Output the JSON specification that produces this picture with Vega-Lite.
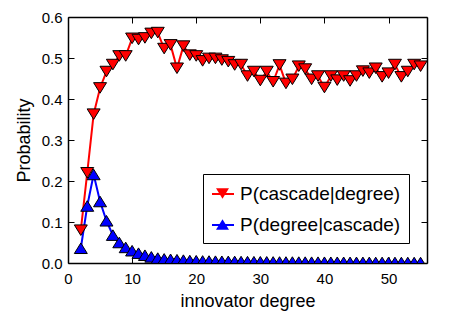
{
  "$schema": "https://vega.github.io/schema/vega-lite/v6.json",
  "width": 359,
  "height": 246,
  "autosize": "none",
  "padding": {"left": 68, "top": 17, "right": 26, "bottom": 55},
  "background": "white",
  "data": {"values": [
    {"series": "P(cascade|degree)", "degree": 2, "p": 0.080},
    {"series": "P(cascade|degree)", "degree": 3, "p": 0.220},
    {"series": "P(cascade|degree)", "degree": 4, "p": 0.363},
    {"series": "P(cascade|degree)", "degree": 5, "p": 0.427},
    {"series": "P(cascade|degree)", "degree": 6, "p": 0.467},
    {"series": "P(cascade|degree)", "degree": 7, "p": 0.484},
    {"series": "P(cascade|degree)", "degree": 8, "p": 0.505},
    {"series": "P(cascade|degree)", "degree": 9, "p": 0.505},
    {"series": "P(cascade|degree)", "degree": 10, "p": 0.548},
    {"series": "P(cascade|degree)", "degree": 11, "p": 0.545},
    {"series": "P(cascade|degree)", "degree": 12, "p": 0.549},
    {"series": "P(cascade|degree)", "degree": 13, "p": 0.560},
    {"series": "P(cascade|degree)", "degree": 14, "p": 0.562},
    {"series": "P(cascade|degree)", "degree": 15, "p": 0.523},
    {"series": "P(cascade|degree)", "degree": 16, "p": 0.532},
    {"series": "P(cascade|degree)", "degree": 17, "p": 0.475},
    {"series": "P(cascade|degree)", "degree": 18, "p": 0.529},
    {"series": "P(cascade|degree)", "degree": 19, "p": 0.507},
    {"series": "P(cascade|degree)", "degree": 20, "p": 0.505},
    {"series": "P(cascade|degree)", "degree": 21, "p": 0.493},
    {"series": "P(cascade|degree)", "degree": 22, "p": 0.499},
    {"series": "P(cascade|degree)", "degree": 23, "p": 0.499},
    {"series": "P(cascade|degree)", "degree": 24, "p": 0.495},
    {"series": "P(cascade|degree)", "degree": 25, "p": 0.491},
    {"series": "P(cascade|degree)", "degree": 26, "p": 0.483},
    {"series": "P(cascade|degree)", "degree": 27, "p": 0.484},
    {"series": "P(cascade|degree)", "degree": 28, "p": 0.456},
    {"series": "P(cascade|degree)", "degree": 29, "p": 0.467},
    {"series": "P(cascade|degree)", "degree": 30, "p": 0.445},
    {"series": "P(cascade|degree)", "degree": 31, "p": 0.467},
    {"series": "P(cascade|degree)", "degree": 32, "p": 0.442},
    {"series": "P(cascade|degree)", "degree": 33, "p": 0.483},
    {"series": "P(cascade|degree)", "degree": 34, "p": 0.438},
    {"series": "P(cascade|degree)", "degree": 35, "p": 0.448},
    {"series": "P(cascade|degree)", "degree": 36, "p": 0.480},
    {"series": "P(cascade|degree)", "degree": 37, "p": 0.473},
    {"series": "P(cascade|degree)", "degree": 38, "p": 0.448},
    {"series": "P(cascade|degree)", "degree": 39, "p": 0.456},
    {"series": "P(cascade|degree)", "degree": 40, "p": 0.428},
    {"series": "P(cascade|degree)", "degree": 41, "p": 0.456},
    {"series": "P(cascade|degree)", "degree": 42, "p": 0.446},
    {"series": "P(cascade|degree)", "degree": 43, "p": 0.456},
    {"series": "P(cascade|degree)", "degree": 44, "p": 0.444},
    {"series": "P(cascade|degree)", "degree": 45, "p": 0.456},
    {"series": "P(cascade|degree)", "degree": 46, "p": 0.468},
    {"series": "P(cascade|degree)", "degree": 47, "p": 0.463},
    {"series": "P(cascade|degree)", "degree": 48, "p": 0.475},
    {"series": "P(cascade|degree)", "degree": 49, "p": 0.454},
    {"series": "P(cascade|degree)", "degree": 50, "p": 0.463},
    {"series": "P(cascade|degree)", "degree": 51, "p": 0.484},
    {"series": "P(cascade|degree)", "degree": 52, "p": 0.454},
    {"series": "P(cascade|degree)", "degree": 53, "p": 0.467},
    {"series": "P(cascade|degree)", "degree": 54, "p": 0.484},
    {"series": "P(cascade|degree)", "degree": 55, "p": 0.480},
    {"series": "P(degree|cascade)", "degree": 2, "p": 0.036},
    {"series": "P(degree|cascade)", "degree": 3, "p": 0.139},
    {"series": "P(degree|cascade)", "degree": 4, "p": 0.216},
    {"series": "P(degree|cascade)", "degree": 5, "p": 0.150},
    {"series": "P(degree|cascade)", "degree": 6, "p": 0.103},
    {"series": "P(degree|cascade)", "degree": 7, "p": 0.068},
    {"series": "P(degree|cascade)", "degree": 8, "p": 0.050},
    {"series": "P(degree|cascade)", "degree": 9, "p": 0.038},
    {"series": "P(degree|cascade)", "degree": 10, "p": 0.030},
    {"series": "P(degree|cascade)", "degree": 11, "p": 0.024},
    {"series": "P(degree|cascade)", "degree": 12, "p": 0.019},
    {"series": "P(degree|cascade)", "degree": 13, "p": 0.015},
    {"series": "P(degree|cascade)", "degree": 14, "p": 0.012},
    {"series": "P(degree|cascade)", "degree": 15, "p": 0.010},
    {"series": "P(degree|cascade)", "degree": 16, "p": 0.009},
    {"series": "P(degree|cascade)", "degree": 17, "p": 0.008},
    {"series": "P(degree|cascade)", "degree": 18, "p": 0.007},
    {"series": "P(degree|cascade)", "degree": 19, "p": 0.006},
    {"series": "P(degree|cascade)", "degree": 20, "p": 0.0055},
    {"series": "P(degree|cascade)", "degree": 21, "p": 0.005},
    {"series": "P(degree|cascade)", "degree": 22, "p": 0.0048},
    {"series": "P(degree|cascade)", "degree": 23, "p": 0.0045},
    {"series": "P(degree|cascade)", "degree": 24, "p": 0.0042},
    {"series": "P(degree|cascade)", "degree": 25, "p": 0.004},
    {"series": "P(degree|cascade)", "degree": 26, "p": 0.0038},
    {"series": "P(degree|cascade)", "degree": 27, "p": 0.0035},
    {"series": "P(degree|cascade)", "degree": 28, "p": 0.0033},
    {"series": "P(degree|cascade)", "degree": 29, "p": 0.0031},
    {"series": "P(degree|cascade)", "degree": 30, "p": 0.003},
    {"series": "P(degree|cascade)", "degree": 31, "p": 0.0028},
    {"series": "P(degree|cascade)", "degree": 32, "p": 0.0026},
    {"series": "P(degree|cascade)", "degree": 33, "p": 0.0025},
    {"series": "P(degree|cascade)", "degree": 34, "p": 0.0024},
    {"series": "P(degree|cascade)", "degree": 35, "p": 0.0023},
    {"series": "P(degree|cascade)", "degree": 36, "p": 0.0022},
    {"series": "P(degree|cascade)", "degree": 37, "p": 0.0021},
    {"series": "P(degree|cascade)", "degree": 38, "p": 0.002},
    {"series": "P(degree|cascade)", "degree": 39, "p": 0.002},
    {"series": "P(degree|cascade)", "degree": 40, "p": 0.0019},
    {"series": "P(degree|cascade)", "degree": 41, "p": 0.0018},
    {"series": "P(degree|cascade)", "degree": 42, "p": 0.0018},
    {"series": "P(degree|cascade)", "degree": 43, "p": 0.0017},
    {"series": "P(degree|cascade)", "degree": 44, "p": 0.0016},
    {"series": "P(degree|cascade)", "degree": 45, "p": 0.0016},
    {"series": "P(degree|cascade)", "degree": 46, "p": 0.0015},
    {"series": "P(degree|cascade)", "degree": 47, "p": 0.0015},
    {"series": "P(degree|cascade)", "degree": 48, "p": 0.0014},
    {"series": "P(degree|cascade)", "degree": 49, "p": 0.0014},
    {"series": "P(degree|cascade)", "degree": 50, "p": 0.0013},
    {"series": "P(degree|cascade)", "degree": 51, "p": 0.0013},
    {"series": "P(degree|cascade)", "degree": 52, "p": 0.0012},
    {"series": "P(degree|cascade)", "degree": 53, "p": 0.0012},
    {"series": "P(degree|cascade)", "degree": 54, "p": 0.0011},
    {"series": "P(degree|cascade)", "degree": 55, "p": 0.0011}
  ]},
  "config": {
    "view": {"stroke": null},
    "font": "Liberation Sans",
    "axis": {
      "domainColor": "black",
      "domainWidth": 1.5,
      "tickColor": "black",
      "tickSize": -6,
      "tickWidth": 1,
      "grid": false,
      "labelFont": "Liberation Sans",
      "labelFontSize": 15,
      "labelColor": "black",
      "labelFlush": false,
      "titleFont": "Liberation Sans",
      "titleFontSize": 18,
      "titleFontWeight": "normal",
      "titleColor": "black"
    },
    "legend": {
      "labelFont": "Liberation Sans",
      "labelFontSize": 19,
      "labelColor": "black",
      "labelLimit": 300
    }
  },
  "layer": [
    {
      "mark": {"type": "line", "strokeWidth": 2, "clip": true},
      "encoding": {
        "x": {
          "field": "degree", "type": "quantitative",
          "scale": {"domain": [0, 56], "nice": false},
          "axis": {"orient": "bottom", "values": [0, 10, 20, 30, 40, 50], "format": "d", "labelPadding": 14, "title": "innovator degree", "titlePadding": 6}
        },
        "y": {
          "field": "p", "type": "quantitative",
          "scale": {"domain": [0, 0.6], "nice": false},
          "axis": {"orient": "left", "values": [0, 0.1, 0.2, 0.3, 0.4, 0.5, 0.6], "format": ".1f", "labelPadding": 12, "title": "Probability", "titlePadding": 8}
        },
        "color": {
          "field": "series", "type": "nominal",
          "scale": {"domain": ["P(cascade|degree)", "P(degree|cascade)"], "range": ["#ff0000", "#0000ff"]},
          "legend": {
            "orient": "none", "legendX": 135, "legendY": 157, "title": null,
            "symbolType": "stroke", "symbolSize": 484, "symbolStrokeWidth": 2,
            "padding": 8, "labelOffset": 6, "rowPadding": 9, "labelExpr": "''"
          }
        }
      }
    },
    {
      "mark": {"type": "point", "filled": true, "stroke": "black", "strokeWidth": 1, "opacity": 1, "size": 484, "clip": true},
      "encoding": {
        "x": {
          "field": "degree", "type": "quantitative",
          "axis": {"orient": "top", "values": [0, 10, 20, 30, 40, 50], "labels": false, "title": null}
        },
        "y": {
          "field": "p", "type": "quantitative",
          "axis": {"orient": "right", "values": [0, 0.1, 0.2, 0.3, 0.4, 0.5, 0.6], "labels": false, "title": null}
        },
        "color": {
          "field": "series", "type": "nominal",
          "scale": {"domain": ["P(cascade|degree)", "P(degree|cascade)"], "range": ["#ff0000", "#0000ff"]},
          "legend": {
            "orient": "none", "legendX": 135, "legendY": 157, "title": null,
            "symbolSize": 484, "symbolStrokeWidth": 1, "symbolStrokeColor": "black", "symbolOpacity": 1,
            "strokeColor": "black", "padding": 8, "labelOffset": 6, "rowPadding": 9
          }
        },
        "shape": {
          "field": "series", "type": "nominal",
          "scale": {"domain": ["P(cascade|degree)", "P(degree|cascade)"], "range": ["M0,0.48L0.59,-0.48L-0.59,-0.48Z", "M0,-0.48L0.59,0.48L-0.59,0.48Z"]},
          "legend": {
            "orient": "none", "legendX": 135, "legendY": 157, "title": null,
            "symbolSize": 484, "symbolStrokeWidth": 1, "symbolStrokeColor": "black", "symbolOpacity": 1,
            "strokeColor": "black", "padding": 8, "labelOffset": 6, "rowPadding": 9
          }
        }
      }
    }
  ],
  "resolve": {
    "scale": {"color": "independent", "shape": "independent"},
    "axis": {"x": "independent", "y": "independent"}
  }
}
